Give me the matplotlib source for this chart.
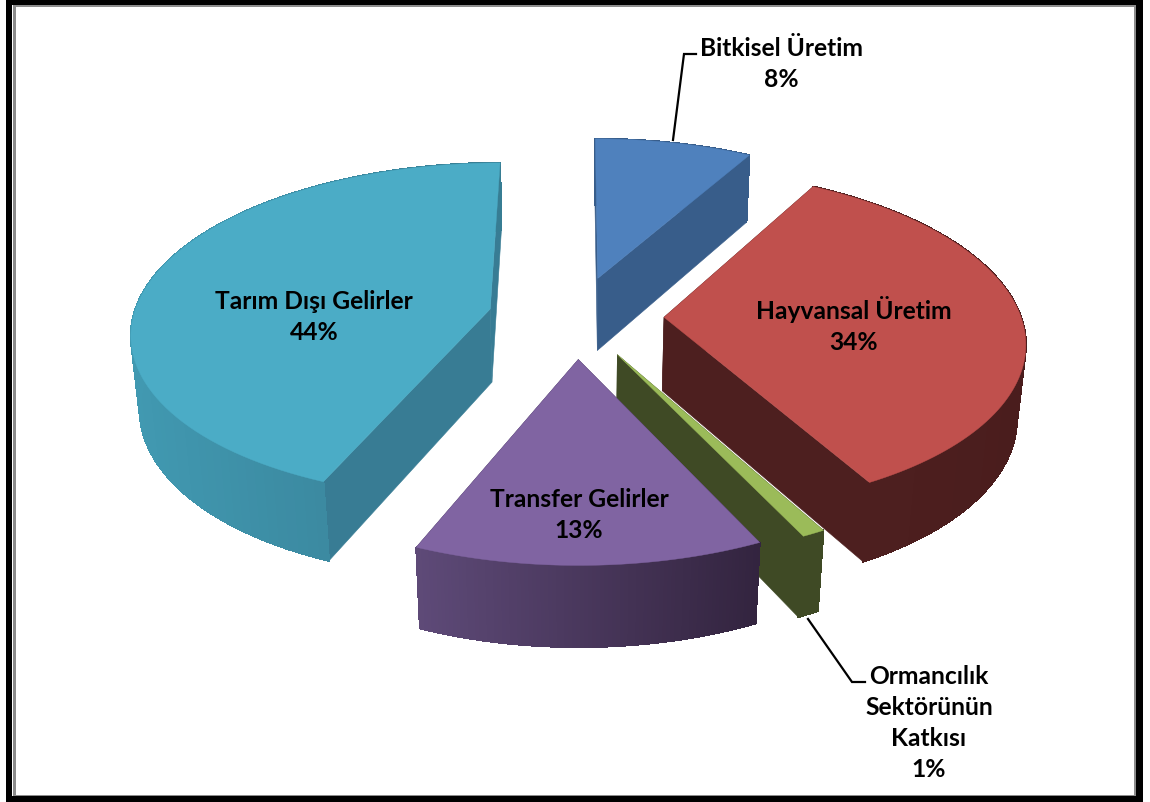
# File: plot.py
import numpy as np
import matplotlib
matplotlib.use("Agg")
import matplotlib.pyplot as plt
from matplotlib.patches import Polygon, Rectangle
from matplotlib.colors import to_rgb

# data
categories = ["Bitkisel Üretim", "Hayvansal Üretim", "Ormancılık\nSektörünün\nKatkısı",
              "Transfer Gelirler", "Tarım Dışı Gelirler"]
values = [8.2, 33.8, 0.9, 13.4, 43.7]  # estimated from slice edges, labels show them rounded

# styles
top_colors = ["#4f81bd", "#c0504d", "#9bbb59", "#8064a2", "#4bacc6"]
side_colors = ["#385d8a", "#4d1f1f", "#3f4a25", "#3f3155", "#387c94"]
rim_left = ["#385d8a", "#4f2020", "#3f4a25", "#5e4a78", "#4199b1"]
rim_right = ["#385d8a", "#4a1d1d", "#3f4a25", "#33243f", "#377c92"]
draw_order = [0, 4, 1, 2, 3]

# projection of the tilted pie to pixels
CX, CY = 576, 318
RX, RY = 357, 167
THICK = 75
EXPLODE = 0.2465
K_Y, K_Z = 0.13, 0.02


def project(x, y, z=0.0):
    s = 1 / (1 - K_Y * np.asarray(y) + K_Z * z)
    return CX + RX * np.asarray(x) * s, CY + (RY * np.asarray(y) + THICK * z) * s


def mix(c1, c2, t):
    a, b = np.array(to_rgb(c1)), np.array(to_rgb(c2))
    return tuple(a + (b - a) * t)


fig = plt.figure(figsize=(11.5, 8.03), dpi=100)
ax = fig.add_axes([0, 0, 1, 1])
ax.set_xlim(0, 1150)
ax.set_ylim(803, 0)
ax.axis("off")

# outer frame
ax.add_patch(Rectangle((6, 0), 1137, 803, fc="black", ec="none"))
ax.add_patch(Rectangle((12, 6), 1124, 791, fc="white", ec="none"))
ax.add_patch(Rectangle((13, 6), 1123, 2, fc="#8c8c8c", ec="none"))
ax.add_patch(Rectangle((13, 6), 3, 791, fc="#8c8c8c", ec="none"))
ax.add_patch(Rectangle((1134, 8), 2, 789, fc="#8c8c8c", ec="none"))
ax.add_patch(Rectangle((13, 795.5), 1123, 1.5, fc="#8c8c8c", ec="none"))

# slice angles from the values, clockwise from 12 o'clock
edges = np.cumsum([0] + values) / sum(values) * 2 * np.pi

for i in draw_order:
    a0, a1 = edges[i], edges[i + 1]
    mid = (a0 + a1) / 2
    ox, oy = EXPLODE * np.sin(mid), -EXPLODE * np.cos(mid)
    t = np.linspace(a0, a1, 90)
    rx, ry = ox + np.sin(t), oy - np.cos(t)

    # straight walls
    for a in (a0, a1):
        ex, ey = ox + np.sin(a), oy - np.cos(a)
        p = [project(ox, oy), project(ex, ey), project(ex, ey, 1), project(ox, oy, 1)]
        ax.add_patch(Polygon(p, fc=side_colors[i], ec=side_colors[i], lw=0.4))

    # curved wall: smooth base shape, then strips for the gradient
    xt, yt = project(rx, ry)
    xb, yb = project(rx, ry, 1)
    base = list(zip(xt, yt)) + list(zip(xb[::-1], yb[::-1]))
    ax.add_patch(Polygon(base, fc=mix(rim_left[i], rim_right[i], 0.5), ec="none"))
    for j in range(len(t) - 1):
        f = (xt[j] - xt.min()) / (xt.max() - xt.min())
        col = mix(rim_left[i], rim_right[i], f)
        p = [(xt[j], yt[j]), (xt[j + 1], yt[j + 1]), (xb[j + 1], yb[j + 1]), (xb[j], yb[j])]
        ax.add_patch(Polygon(p, fc=col, ec=col, lw=0.8, antialiased=False))

    # top face
    ax_, ay_ = project(ox, oy)
    top = [(ax_, ay_)] + list(zip(xt, yt))
    ax.add_patch(Polygon(top, fc=top_colors[i], ec=top_colors[i], lw=0.3))

# leader lines
ax.plot([673, 684, 696], [141, 55, 55], color="black", lw=1.6, solid_joinstyle="miter")
ax.plot([808, 852, 865], [620, 683, 683], color="black", lw=1.6, solid_joinstyle="miter")

# labels
label_pos = [(781, 64), (854, 325), (929, 723), (579, 515), (314, 317)]
for name, v, (lx, ly) in zip(categories, values, label_pos):
    ax.text(lx, ly, f"{name}\n{round(v)}%", ha="center", va="center", family="Lato",
            fontweight="bold", fontsize=17.7, color="black", linespacing=1.43)

fig.savefig("out.png", dpi=100)
